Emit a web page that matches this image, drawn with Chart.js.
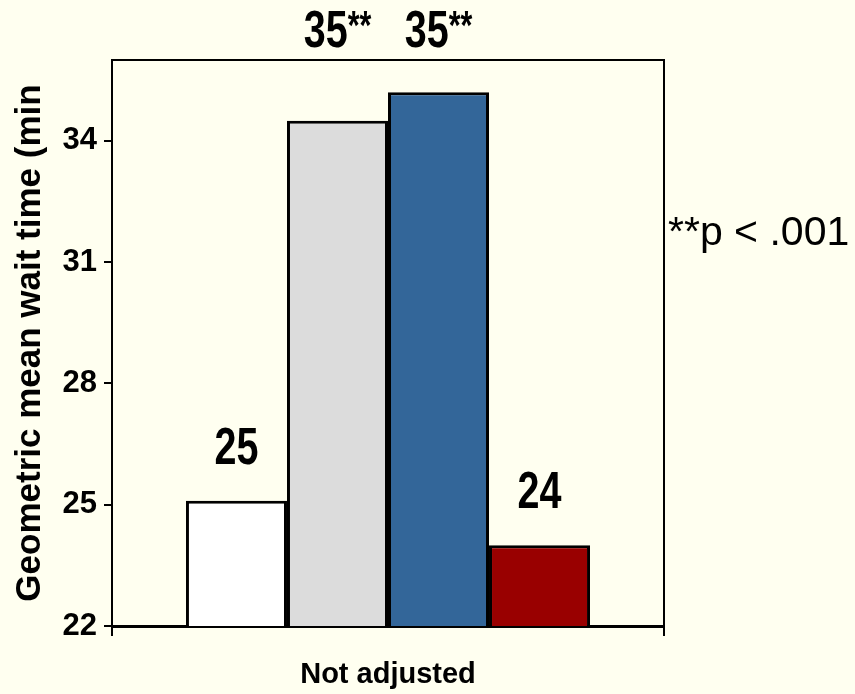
<!DOCTYPE html>
<html>
<head>
<meta charset="utf-8">
<script src="https://cdn.jsdelivr.net/npm/chart.js@4.4.1/dist/chart.umd.min.js"></script>
<style>
  html, body { margin: 0; padding: 0; background: #fffff0; }
  #wrap { width: 855px; height: 694px; }
</style>
</head>
<body>
<div id="wrap"><canvas id="myChart" width="855" height="694"></canvas></div>
<script>
// DATA
const categories = ['Not adjusted'];
const seriesNames = ['Group 1', 'Group 2', 'Group 3', 'Group 4'];
const values = [25.1, 34.5, 35.2, 24.0];
const valueLabels = ['25', '35', '35', '24'];
const labelMarks = ['', '**', '**', ''];
const barColors = ['#ffffff', '#dcdcdc', '#336699', '#990000'];
const yTicks = [22, 25, 28, 31, 34];
const yTitle = 'Geometric mean wait time (min';
const note = '**p < .001';

const arial = '"Liberation Sans", Arial, sans-serif';
const squeeze = 0.76;

// plot frame + value labels + note
const extras = {
  id: 'extras',
  afterDatasetsDraw(chart) {
    const ctx = chart.ctx;
    const a = chart.chartArea;
    ctx.save();
    ctx.strokeStyle = '#000';
    ctx.lineWidth = 2;
    ctx.beginPath();
    ctx.moveTo(a.left, a.top);
    ctx.lineTo(a.right, a.top);
    ctx.lineTo(a.right, a.bottom);
    ctx.stroke();

    ctx.fillStyle = '#000';
    ctx.textBaseline = 'alphabetic';
    ctx.textAlign = 'left';
    chart.data.datasets.forEach((ds, i) => {
      const bar = chart.getDatasetMeta(i).data[0];
      let y = bar.y - 37;
      if (y - 36 < a.top) y = a.top - 13;
      ctx.font = 'bold 52px ' + arial;
      const w1 = ctx.measureText(valueLabels[i]).width * squeeze;
      ctx.font = 'bold 40px ' + arial;
      const w2 = labelMarks[i] ? ctx.measureText(labelMarks[i]).width * squeeze : 0;
      const x0 = bar.x - (w1 + w2) / 2;
      ctx.save();
      ctx.translate(x0, y);
      ctx.scale(squeeze, 1);
      ctx.font = 'bold 52px ' + arial;
      ctx.fillText(valueLabels[i], 0, 0);
      if (labelMarks[i]) {
        ctx.font = 'bold 40px ' + arial;
        ctx.fillText(labelMarks[i], w1 / squeeze, -8);
      }
      ctx.restore();
    });

    ctx.font = '41px ' + arial;
    ctx.fillText(note, a.right + 4, 245);
    ctx.restore();
  }
};

const ctx = document.getElementById('myChart');

new Chart(ctx, {
  type: 'bar',
  data: {
    labels: categories,
    datasets: seriesNames.map((name, i) => ({
      label: name,
      data: [values[i]],
      backgroundColor: barColors[i],
      borderColor: '#000',
      borderWidth: 3,
      borderSkipped: false
    }))
  },
  options: {
    responsive: false,
    animation: false,
    layout: { padding: { left: 8, top: 60, right: 191, bottom: 0 } },
    categoryPercentage: 0.732,
    barPercentage: 1.0,
    plugins: {
      legend: { display: false },
      tooltip: { enabled: false }
    },
    scales: {
      x: {
        offset: true,
        grid: { offset: true, drawOnChartArea: false, color: '#000', lineWidth: 2, tickLength: 10 },
        border: { display: true, color: '#000', width: 3 },
        ticks: { color: '#000', font: { family: arial, size: 29, weight: 'bold' }, padding: 22 },
        afterFit(scale) { scale.height = 68; }
      },
      y: {
        min: 22,
        max: 36,
        grid: { drawOnChartArea: false, color: '#000', lineWidth: 2, tickLength: 8 },
        border: { display: true, color: '#000', width: 2 },
        afterBuildTicks(scale) { scale.ticks = yTicks.map(v => ({ value: v })); },
        ticks: { color: '#000', font: { family: arial, size: 31, weight: 'bold' }, padding: 7 },
        title: {
          display: true,
          text: yTitle,
          color: '#000',
          font: { family: arial, size: 35, weight: 'bold' },
          padding: { top: 1, bottom: 0 }
        },
        afterFit(scale) { scale.width = 104; }
      }
    }
  },
  plugins: [extras]
});
</script>
</body>
</html>
